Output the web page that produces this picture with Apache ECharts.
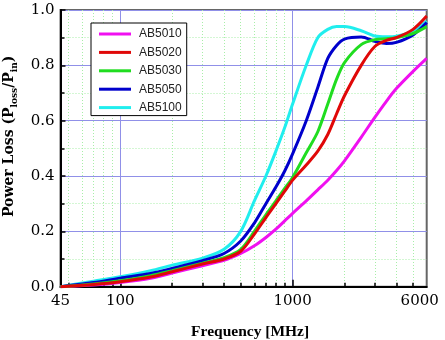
<!DOCTYPE html>
<html>
<head>
<meta charset="utf-8">
<script src="https://cdn.jsdelivr.net/npm/echarts@6/dist/echarts.min.js"></script>
<style>
html,body{margin:0;padding:0;background:#fff;}
#chart{width:445px;height:340px;}
</style>
</head>
<body>
<div id="chart"></div>
<script>
// ---- data ----
const freqs = [45, 70, 100, 150, 200, 300, 400, 500, 600, 700, 800, 900, 1000, 1200, 1400, 1600, 1800, 2000, 2500, 3000, 3500, 4000, 5000, 6000];
const seriesNames = ['AB5010', 'AB5020', 'AB5030', 'AB5050', 'AB5100'];
const ab5010 = [0.0, 0.006, 0.015, 0.030, 0.049, 0.076, 0.095, 0.120, 0.148, 0.178, 0.208, 0.238, 0.265, 0.310, 0.350, 0.385, 0.420, 0.455, 0.540, 0.612, 0.670, 0.716, 0.778, 0.825];
const ab5020 = [0.0, 0.008, 0.018, 0.035, 0.054, 0.082, 0.100, 0.128, 0.190, 0.250, 0.300, 0.345, 0.385, 0.440, 0.490, 0.550, 0.625, 0.690, 0.800, 0.868, 0.890, 0.900, 0.930, 0.978];
const ab5030 = [0.0, 0.010, 0.022, 0.040, 0.058, 0.085, 0.105, 0.135, 0.200, 0.260, 0.310, 0.355, 0.395, 0.484, 0.560, 0.660, 0.750, 0.810, 0.875, 0.893, 0.896, 0.900, 0.915, 0.940];
const ab5050 = [0.0, 0.015, 0.031, 0.048, 0.066, 0.094, 0.120, 0.165, 0.230, 0.300, 0.360, 0.418, 0.480, 0.600, 0.720, 0.825, 0.872, 0.895, 0.902, 0.887, 0.879, 0.883, 0.910, 0.955];
const ab5100 = [0.0, 0.020, 0.036, 0.058, 0.078, 0.103, 0.135, 0.200, 0.310, 0.400, 0.490, 0.575, 0.660, 0.800, 0.900, 0.930, 0.940, 0.940, 0.925, 0.906, 0.903, 0.905, 0.925, 0.960];
const xLabelValues = [45, 100, 1000, 6000];
const xMajorValues = [100, 1000];
const xMinorValues = [50, 60, 70, 80, 90, 200, 300, 400, 500, 600, 700, 800, 900, 2000, 3000, 4000, 5000];
const colors = ['#f010f0', '#e00808', '#20dd20', '#0000cc', '#20eeee'];
const drawOrder = [0, 4, 3, 2, 1];
const allValues = [ab5010, ab5020, ab5030, ab5050, ab5100];

const serifFont = 'DejaVu Serif';
const chart = echarts.init(document.getElementById('chart'), null, {renderer: 'canvas'});

const series = drawOrder.map(i => ({
  name: seriesNames[i],
  type: 'line',
  xAxisIndex: 0,
  yAxisIndex: 0,
  smooth: 0.3,
  showSymbol: false,
  symbol: 'none',
  lineStyle: {width: 3, color: colors[i]},
  itemStyle: {color: colors[i]},
  data: freqs.map((f, k) => [f, allValues[i][k]])
}));

const option = {
  animation: false,
  backgroundColor: '#fff',
  grid: {left: 60.5, right: 18.3, top: 10, bottom: 53.3, outerBoundsMode: 'none', containLabel: false, show: true, borderColor: '#666', borderWidth: 2, backgroundColor: 'transparent'},
  legend: {
    orient: 'vertical',
    left: 91, top: 23,
    data: seriesNames,
    icon: 'rect',
    itemWidth: 32, itemHeight: 3,
    itemGap: 4.4,
    padding: [4, 5, 1, 8],
    backgroundColor: '#fff',
    borderColor: '#000', borderWidth: 1,
    textStyle: {fontFamily: 'Liberation Sans', fontSize: 12, color: '#222', lineHeight: 14, padding: [0, 0, 0, 3]}
  },
  xAxis: [{
    type: 'log', logBase: 10, min: 45, max: 6000,
    position: 'bottom',
    name: 'Frequency [MHz]',
    nameLocation: 'middle',
    nameGap: 37,
    nameTextStyle: {fontFamily: 'Liberation Serif', fontWeight: 'bold', fontSize: 15.5, color: '#000', padding: [0, 0, 0, 13]},
    axisLine: {show: true, lineStyle: {color: '#000', width: 2}},
    axisTick: {show: true, inside: true, length: 4, customValues: xMinorValues, lineStyle: {color: '#000', width: 1.5}},
    axisLabel: {
      show: true, customValues: xLabelValues, margin: 7,
      fontFamily: serifFont, fontSize: 15, color: '#000',
      formatter: v => (Math.round(v) === 6000 ? '{r|6000}' : String(Math.round(v))),
      rich: {r: {fontFamily: serifFont, fontSize: 15, color: '#000', padding: [0, 14, 0, 0]}}
    },
    splitLine: {show: true, lineStyle: {color: '#a8eea8', type: [1, 2], width: 1}},
    minorTick: {show: false}
  }, {
    type: 'log', logBase: 10, min: 45, max: 6000,
    position: 'bottom',
    axisLine: {show: false},
    axisTick: {show: true, inside: true, length: 7, customValues: xMajorValues, lineStyle: {color: '#000', width: 1.5}},
    axisLabel: {show: false},
    splitLine: {show: true, lineStyle: {color: '#9090e8', width: 1}}
  }],
  yAxis: [{
    type: 'value', min: 0, max: 1, interval: 0.2,
    name: 'Power Loss (P{sub|loss}/P{sub|in})',
    nameLocation: 'middle',
    nameGap: 41,
    nameRotate: 90,
    nameTextStyle: {
      fontFamily: serifFont, fontWeight: 'bold', fontSize: 14, color: '#000', lineHeight: 20,
      padding: [0, 0, 0, 24],
      rich: {sub: {fontFamily: serifFont, fontWeight: 'bold', fontSize: 9, color: '#000', verticalAlign: 'bottom', lineHeight: 12}}
    },
    axisLine: {show: true, lineStyle: {color: '#000', width: 2}},
    axisTick: {show: true, inside: true, length: 5, lineStyle: {color: '#000', width: 1.5}},
    minorTick: {show: true, splitNumber: 2, length: 4, lineStyle: {color: '#000', width: 1.5}},
    axisLabel: {fontFamily: serifFont, fontSize: 15, color: '#000', margin: 6, formatter: v => v.toFixed(1)},
    splitLine: {show: true, lineStyle: {color: '#9090e8', width: 1}},
    minorSplitLine: {show: true, lineStyle: {color: '#a8eea8', type: [1, 2], width: 1}}
  }],
  series: series
};
chart.setOption(option);
</script>
</body>
</html>
